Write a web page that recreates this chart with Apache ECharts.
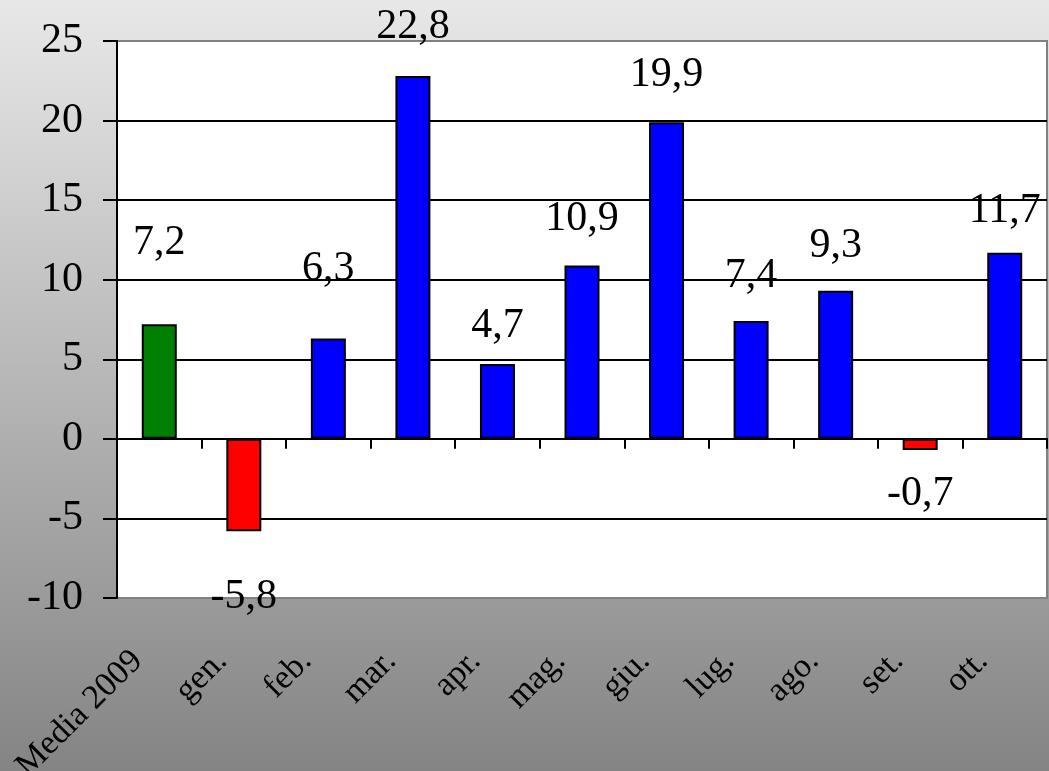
<!DOCTYPE html>
<html>
<head>
<meta charset="utf-8">
<script src="https://cdn.jsdelivr.net/npm/echarts@6/dist/echarts.min.js"></script>
<style>
  html, body { margin: 0; padding: 0; }
  #chart { width: 1049px; height: 771px; }
</style>
</head>
<body>
<div id="chart"></div>
<script>
// Variazione mensile (%) rispetto alla media 2009
const categories = ['Media 2009', 'gen.', 'feb.', 'mar.', 'apr.', 'mag.', 'giu.', 'lug.', 'ago.', 'set.', 'ott.'];
const values = [7.2, -5.8, 6.3, 22.8, 4.7, 10.9, 19.9, 7.4, 9.3, -0.7, 11.7];
const yMin = -10;
const yMax = 25;
const yStep = 5;

// distance (px) from each bar end to the centre of its value label
const labelGap = [81, 66, 70, 49, 38, 46, 47, 45, 45, 44, 42];

const FONT = '"Liberation Serif", "Times New Roman", serif';

function barColor(i, v) {
  if (i === 0) return '#008000';
  return v < 0 ? '#ff0000' : '#0000ff';
}

const seriesData = values.map((v, i) => ({
  value: v,
  itemStyle: { color: barColor(i, v) },
  label: {
    position: v < 0 ? 'bottom' : 'top',
    distance: labelGap[i],
    verticalAlign: 'middle'
  }
}));

const tickCount = Math.round((yMax - yMin) / yStep) + 1;
const splitColors = [];
for (let k = 0; k < tickCount; k++) {
  splitColors.push(k === 0 || k === tickCount - 1 ? '#808080' : '#000000');
}

const chart = echarts.init(document.getElementById('chart'), null, { renderer: 'canvas' });
chart.setOption({
  animation: false,
  backgroundColor: {
    type: 'linear', x: 0, y: 0, x2: 0, y2: 1,
    colorStops: [
      { offset: 0, color: '#e8e8e8' },
      { offset: 1, color: '#848484' }
    ]
  },
  grid: {
    left: 117, right: 2, top: 41, bottom: 173,
    containLabel: false,
    outerBoundsMode: 'none',
    show: true,
    backgroundColor: '#ffffff',
    borderColor: '#808080',
    borderWidth: 2
  },
  xAxis: [
    {
      type: 'category',
      data: categories,
      position: 'bottom',
      axisLine: { show: false, onZero: false },
      axisTick: { show: false },
      axisLabel: {
        interval: 0,
        rotate: 45,
        margin: 60,
        align: 'right',
        verticalAlign: 'bottom',
        color: '#000',
        fontFamily: FONT,
        fontSize: 34,
        // right padding on the name pulls each slanted label back from its slot centre
        formatter: name => '{t|' + name + '}',
        rich: {
          t: { color: '#000', fontFamily: FONT, fontSize: 34, padding: [0, 14, 0, 0] }
        }
      }
    },
    {
      type: 'category',
      data: categories,
      position: 'bottom',
      axisLine: { show: true, onZero: true, lineStyle: { color: '#000', width: 2 } },
      axisTick: { show: true, inside: false, length: 10, lineStyle: { color: '#000', width: 2 } },
      axisLabel: { show: false },
      splitLine: { show: false }
    }
  ],
  yAxis: {
    type: 'value',
    min: yMin,
    max: yMax,
    interval: yStep,
    axisLine: { show: true, lineStyle: { color: '#000', width: 2 } },
    axisTick: { show: true, inside: false, length: 14, lineStyle: { color: '#000', width: 2 } },
    axisLabel: {
      margin: 34,
      color: '#000',
      fontFamily: FONT,
      fontSize: 42
    },
    splitLine: { show: true, lineStyle: { color: splitColors, width: 2 } }
  },
  series: [{
    type: 'bar',
    xAxisIndex: 0,
    barWidth: 35,
    data: seriesData,
    itemStyle: { borderColor: '#000', borderWidth: 2 },
    label: {
      show: true,
      color: '#000',
      fontFamily: FONT,
      fontSize: 42,
      formatter: p => String(p.value).replace('.', ',')
    }
  }]
});
</script>
</body>
</html>
